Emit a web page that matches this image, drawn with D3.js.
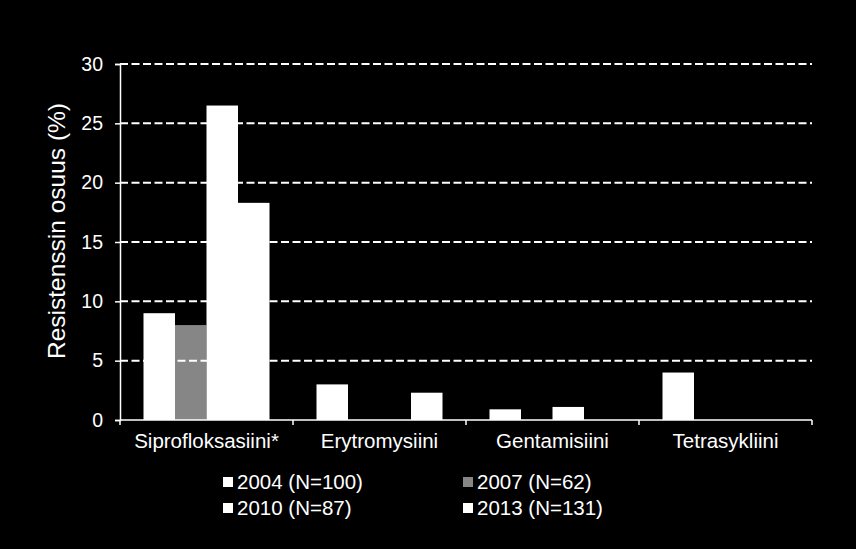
<!DOCTYPE html>
<html>
<head>
<meta charset="utf-8">
<script src="https://cdn.jsdelivr.net/npm/d3@7"></script>
<style>
  html, body { margin: 0; padding: 0; background: #000; }
  svg { display: block; }
  text { font-family: "Liberation Sans", Arial, sans-serif; fill: #fff; }
</style>
</head>
<body>
<svg id="chart" width="856" height="549"></svg>
<script>
const categories = ["Siprofloksasiini*", "Erytromysiini", "Gentamisiini", "Tetrasykliini"];
const seriesLabels = ["2004 (N=100)", "2007 (N=62)", "2010 (N=87)", "2013 (N=131)"];
const seriesColors = ["#ffffff", "#868686", "#ffffff", "#ffffff"];
const v2004 = [9.0, 3.0, 0.9, 4.0];
const v2007 = [8.0, 0, 0, 0];
const v2010 = [26.5, 0, 1.1, 0];
const v2013 = [18.3, 2.3, 0, 0];
const yTicks = [0, 5, 10, 15, 20, 25, 30];
const yTitle = "Resistenssin osuus (%)";

(function () {
const series = [v2004, v2007, v2010, v2013];

const svg = d3.select("#chart");
svg.append("rect").attr("width", 856).attr("height", 549).attr("fill", "#000");

const mLeft = 120, mRight = 812, mTop = 64, mBottom = 420;

const x0 = d3.scaleBand().domain(categories).range([mLeft, mRight]).padding(0);
const x1 = d3.scaleBand().domain(d3.range(series.length)).range([0, x0.bandwidth()])
  .paddingInner(0).paddingOuter(0.746);
const y = d3.scaleLinear().domain([0, 30]).range([mBottom, mTop]);

// bars
const g = svg.append("g");
categories.forEach((c, ci) => {
  series.forEach((s, si) => {
    const v = s[ci];
    if (v <= 0) return;
    g.append("rect")
      .attr("x", x0(c) + x1(si))
      .attr("y", y(v))
      .attr("width", x1.bandwidth())
      .attr("height", y(0) - y(v))
      .attr("fill", seriesColors[si]);
  });
});

// gridlines (drawn on top)
svg.append("g").selectAll("line")
  .data(yTicks.filter(t => t > 0))
  .join("line")
  .attr("x1", mLeft).attr("x2", mRight)
  .attr("y1", d => y(d)).attr("y2", d => y(d))
  .attr("stroke", "#fff").attr("stroke-width", 2)
  .attr("stroke-dasharray", "8,3.5");

// y axis
const yAxis = svg.append("g").attr("transform", `translate(${mLeft},0)`)
  .call(d3.axisLeft(y).tickValues(yTicks).tickSize(5).tickPadding(12));
yAxis.select(".domain").attr("stroke", "#fff").attr("stroke-width", 1.5);
yAxis.selectAll(".tick line").attr("stroke", "#fff").attr("stroke-width", 1.5);
yAxis.selectAll(".tick text").attr("fill", "#fff")
  .style("font-size", "19.5px").style("font-family", "'Liberation Sans', Arial, sans-serif");

// x axis
const xAxis = svg.append("g").attr("transform", `translate(0,${mBottom})`)
  .call(d3.axisBottom(x0).tickSize(0).tickPadding(13));
xAxis.select(".domain").remove();
xAxis.selectAll(".tick text").attr("fill", "#fff")
  .style("font-size", "20.5px").style("font-family", "'Liberation Sans', Arial, sans-serif");
svg.append("line").attr("x1", mLeft).attr("x2", mRight).attr("y1", mBottom).attr("y2", mBottom)
  .attr("stroke", "#fff").attr("stroke-width", 1.5);
const bounds = categories.map(c => x0(c)).concat([x0(categories[categories.length - 1]) + x0.bandwidth()]);
svg.append("g").selectAll("line").data(bounds).join("line")
  .attr("x1", d => d).attr("x2", d => d)
  .attr("y1", mBottom).attr("y2", mBottom + 5)
  .attr("stroke", "#fff").attr("stroke-width", 1.5);

// y title
svg.append("text")
  .attr("transform", `translate(65,231) rotate(-90)`)
  .attr("text-anchor", "middle")
  .style("font-size", "24.5px")
  .text(yTitle);

// legend
const legPos = [[223, 477], [463, 477], [223, 503], [463, 503]];
const leg = svg.append("g");
seriesLabels.forEach((lab, i) => {
  const [lx, ly] = legPos[i];
  leg.append("rect").attr("x", lx).attr("y", ly).attr("width", 10).attr("height", 10)
    .attr("fill", seriesColors[i]);
  leg.append("text").attr("x", lx + 14).attr("y", ly + 11.5)
    .style("font-size", "20.5px").text(lab);
});
})();
</script>
</body>
</html>
